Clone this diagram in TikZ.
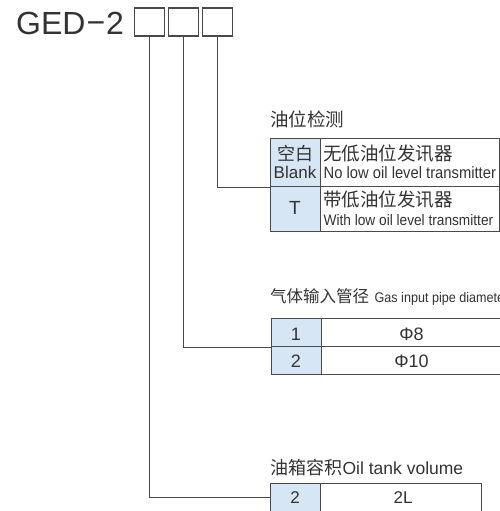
\documentclass[tikz,border=0pt]{standalone}
\usepackage{fontspec}
\setmainfont{Liberation Sans}
\newfontfamily\cjk{Noto Sans CJK SC}
\newfontfamily\narrow[FakeStretch=0.9]{Liberation Sans}
\definecolor{ink}{HTML}{333333}
\definecolor{rule}{HTML}{4A4A4A}
\definecolor{cellblue}{HTML}{D6E6F5}
\tikzset{
	codebox/.style={draw=rule, line width=1.1pt, minimum width=30pt, minimum height=28pt, inner sep=0pt},
	keycell/.style={draw=rule, line width=1pt, fill=cellblue, anchor=north west, minimum width=50pt, inner sep=0pt},
	valcell/.style={draw=rule, line width=1pt, anchor=north west, inner sep=0pt},
	txt/.style={anchor=base west, inner sep=0pt, text=ink},
	ctxt/.style={anchor=base, inner sep=0pt, text=ink},
	lead/.style={draw=rule, line width=0.9pt}
}
\begin{document}
\begin{tikzpicture}[x=1pt, y=-1pt]
	\useasboundingbox (0,0) rectangle (500,511);
	\clip (0,0) rectangle (500,511);

	\node[txt, font=\fontsize{32}{32}\selectfont] (code) at (16,35) {GED\raisebox{0.05em}{\kern0.03em−\kern0.03em}2};
	\node[codebox] (b1) at (149.5,22) {};
	\node[codebox] (b2) at (183.5,22) {};
	\node[codebox] (b3) at (217.5,22) {};

	% oil level detection
	\node[txt, font=\cjk\fontsize{18.5}{18.5}\selectfont] (t1) at (270,126) {油位检测};
	\node[keycell, minimum height=48pt] (k1a) at (270,138) {};
	\node[valcell, minimum width=179pt, minimum height=48pt] (v1a) at (320,138) {};
	\node[keycell, minimum height=45pt] (k1b) at (270,186) {};
	\node[valcell, minimum width=179pt, minimum height=45pt] (v1b) at (320,186) {};
	\node[ctxt, font=\cjk\fontsize{18}{18}\selectfont] (k1aa) at (295,160) {空白};
	\node[ctxt, font=\fontsize{17}{17}\selectfont] (k1ab) at (295,178) {Blank};
	\node[ctxt, font=\fontsize{19}{19}\selectfont] (k1ba) at (295,214) {T};
	\node[txt, font=\cjk\fontsize{18.5}{18.5}\selectfont] (v1aa) at (323,160) {无低油位发讯器};
	\node[txt, font=\narrow\fontsize{16.4}{16.4}\selectfont] (v1ab) at (323.5,178) {No low oil level transmitter};
	\node[txt, font=\cjk\fontsize{18.5}{18.5}\selectfont] (v1ba) at (323,206) {带低油位发讯器};
	\node[txt, font=\narrow\fontsize{15.2}{15.2}\selectfont] (v1bb) at (323.5,225) {With low oil level transmitter};

	% gas input pipe diameter
	\node[txt, font=\cjk\fontsize{16.5}{16.5}\selectfont] (t2) at (270,302) {气体输入管径};
	\node[txt, font=\narrow\fontsize{14}{14}\selectfont] (t2e) at (t2.base east) {\kern5pt Gas input pipe diameter};
	\node[keycell, minimum height=28pt] (k2a) at (271,318) {};
	\node[valcell, minimum width=181pt, minimum height=28pt] (v2a) at (321,318) {};
	\node[keycell, minimum height=28pt] (k2b) at (271,346) {};
	\node[valcell, minimum width=181pt, minimum height=28pt] (v2b) at (321,346) {};
	\node[ctxt, font=\fontsize{18}{18}\selectfont] (k2at) at (296,340) {1};
	\node[ctxt, font=\fontsize{18}{18}\selectfont] (v2at) at (411.5,340) {Φ8};
	\node[ctxt, font=\fontsize{18}{18}\selectfont] (k2bt) at (296,367) {2};
	\node[ctxt, font=\fontsize{18}{18}\selectfont] (v2bt) at (411.5,367) {Φ10};

	% oil tank volume
	\node[txt, font=\cjk\fontsize{18}{18}\selectfont] (t3) at (270,474) {油箱容积};
	\node[txt, font=\fontsize{17.5}{17.5}\selectfont] (t3e) at (t3.base east) {Oil tank volume};
	\node[keycell, minimum height=30pt] (k3a) at (270,483) {};
	\node[valcell, minimum width=161pt, minimum height=30pt] (v3a) at (320,483) {};
	\node[ctxt, font=\fontsize{17}{17}\selectfont] (k3at) at (295,503) {2};
	\node[ctxt, font=\fontsize{17}{17}\selectfont] (v3at) at (403,503) {2L};

	\draw[lead] (b3.south) |- (k1a.south west);
	\draw[lead] (b2.south) |- (k2a.south west);
	\coordinate (k3mid) at (270,497);
	\draw[lead] (b1.south) |- (k3mid);
\end{tikzpicture}
\end{document}
